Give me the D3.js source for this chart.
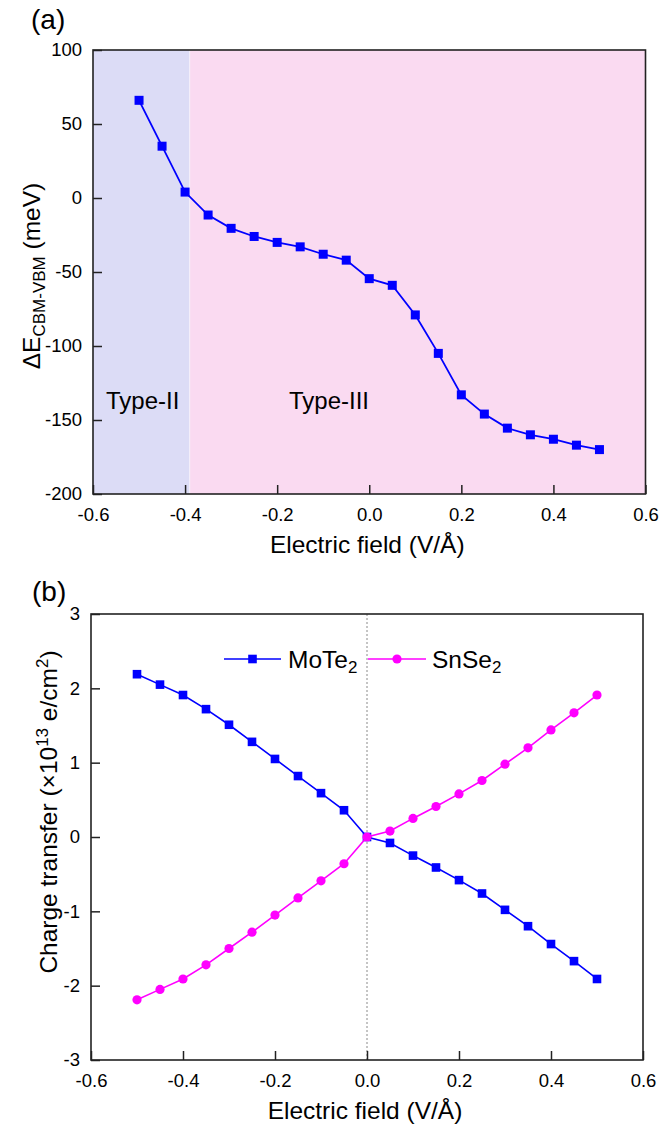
<!DOCTYPE html>
<html>
<head>
<meta charset="utf-8">
<script src="https://cdn.jsdelivr.net/npm/d3@7"></script>
<style>
  body { margin: 0; background: #fff; }
  svg { display: block; }
  text { font-family: "Liberation Sans", Arial, sans-serif; fill: #000; }
</style>
</head>
<body>
<svg id="fig" width="660" height="1129"></svg>
<script>
// ---- Data -------------------------------------------------------------
// Panel (a): band offset vs. applied field
const fieldA = [-0.5, -0.45, -0.4, -0.35, -0.3, -0.25, -0.2, -0.15, -0.1, -0.05, 0,
                0.05, 0.1, 0.15, 0.2, 0.25, 0.3, 0.35, 0.4, 0.45, 0.5];
const gapMeV = [66, 35, 4, -11.5, -20.5, -26, -30, -33, -38, -42, -54.5,
                -59, -79, -105, -133, -146, -155.5, -160, -163, -167, -170];
const typeBoundary = -0.39;
const regionNames = ["Type-II", "Type-III"];

// Panel (b): charge transfer of each layer
const fieldB = [-0.5, -0.45, -0.4, -0.35, -0.3, -0.25, -0.2, -0.15, -0.1, -0.05, 0,
                0.05, 0.1, 0.15, 0.2, 0.25, 0.3, 0.35, 0.4, 0.45, 0.5];
const moTe2 = [2.19, 2.05, 1.91, 1.72, 1.51, 1.28, 1.05, 0.82, 0.59, 0.36, 0,
               -0.08, -0.25, -0.41, -0.58, -0.76, -0.98, -1.2, -1.44, -1.67, -1.91];
const snSe2 = [-2.19, -2.05, -1.91, -1.72, -1.5, -1.28, -1.05, -0.82, -0.59, -0.36, 0,
               0.08, 0.25, 0.41, 0.58, 0.76, 0.98, 1.2, 1.44, 1.67, 1.91];

// Tick values
const xTicks = [-0.6, -0.4, -0.2, 0, 0.2, 0.4, 0.6];
const yTicksA = [100, 50, 0, -50, -100, -150, -200];
const yTicksB = [3, 2, 1, 0, -1, -2, -3];

// ---- Styles -----------------------------------------------------------
const BLUE = "#0000ff", MAGENTA = "#ff00ff";
const TICK_FONT = 18.5, TITLE_FONT = 24.5, SUB_FONT = 17;

const svg = d3.select("#fig");

function drawAxes(g, x, y, yTicks, xFmt, yFmt) {
  const xa = g.append("g").attr("transform", `translate(0,${y.range()[0]})`)
    .call(d3.axisBottom(x).tickValues(xTicks).tickFormat(xFmt)
      .tickSizeInner(-9).tickSizeOuter(0).tickPadding(14));
  const ya = g.append("g").attr("transform", `translate(${x.range()[0]},0)`)
    .call(d3.axisLeft(y).tickValues(yTicks).tickFormat(yFmt)
      .tickSizeInner(-9).tickSizeOuter(0).tickPadding(11));
  [xa, ya].forEach(a => {
    a.select(".domain").remove();
    a.selectAll(".tick line").attr("stroke", "#222").attr("stroke-width", 1.5);
    a.selectAll(".tick text").attr("font-size", TICK_FONT)
      .attr("font-family", "'Liberation Sans', Arial, sans-serif").attr("fill", "#000");
  });
  // frame
  g.append("rect")
    .attr("x", x.range()[0]).attr("y", y.range()[1])
    .attr("width", x.range()[1] - x.range()[0])
    .attr("height", y.range()[0] - y.range()[1])
    .attr("fill", "none").attr("stroke", "#222").attr("stroke-width", 1.6);
}

const fmtX = d => d.toFixed(1);
const fmtY = d => String(d);

// ---- Panel (a) --------------------------------------------------------
{
  const x = d3.scaleLinear().domain([-0.6, 0.6]).range([93, 645.5]);
  const y = d3.scaleLinear().domain([-200, 100]).range([494, 50]);
  const g = svg.append("g");

  // band-alignment regions
  g.append("rect").attr("x", x(-0.6)).attr("y", y(100))
    .attr("width", x(typeBoundary) - x(-0.6)).attr("height", y(-200) - y(100))
    .attr("fill", "#dcdcf6");
  g.append("rect").attr("x", x(typeBoundary)).attr("y", y(100))
    .attr("width", x(0.6) - x(typeBoundary)).attr("height", y(-200) - y(100))
    .attr("fill", "#fadaf1");
  g.append("line").attr("x1", x(typeBoundary)).attr("x2", x(typeBoundary))
    .attr("y1", y(100)).attr("y2", y(-200))
    .attr("stroke", "#f4f0fa").attr("stroke-width", 1);

  drawAxes(g, x, y, yTicksA, fmtX, fmtY);

  const pts = fieldA.map((f, i) => [f, gapMeV[i]]);
  g.append("path").datum(pts)
    .attr("d", d3.line().x(d => x(d[0])).y(d => y(d[1])))
    .attr("fill", "none").attr("stroke", BLUE).attr("stroke-width", 1.8);
  g.selectAll("rect.pt").data(pts).join("rect").attr("class", "pt")
    .attr("x", d => x(d[0]) - 4.5).attr("y", d => y(d[1]) - 4.5)
    .attr("width", 9).attr("height", 9).attr("fill", BLUE);

  g.append("text").attr("x", 106).attr("y", 409).attr("font-size", 24)
    .text(regionNames[0]);
  g.append("text").attr("x", 289).attr("y", 409).attr("font-size", 24)
    .text(regionNames[1]);

  g.append("text").attr("x", (x(-0.6) + x(0.6)) / 2 - 2).attr("y", 553)
    .attr("text-anchor", "middle").attr("font-size", TITLE_FONT)
    .text("Electric field (V/Å)");

  const yt = g.append("text").attr("transform", "translate(40,276) rotate(-90)")
    .attr("text-anchor", "middle").attr("font-size", TITLE_FONT);
  yt.append("tspan").text("ΔE");
  yt.append("tspan").attr("font-size", SUB_FONT).attr("dy", 5).text("CBM-VBM");
  yt.append("tspan").attr("dy", -5).text(" (meV)");

  svg.append("text").attr("x", 31).attr("y", 29).attr("font-size", 28).text("(a)");
}

// ---- Panel (b) --------------------------------------------------------
{
  const x = d3.scaleLinear().domain([-0.6, 0.6]).range([91, 643]);
  const y = d3.scaleLinear().domain([-3, 3]).range([1060, 614]);
  const g = svg.append("g");

  // zero-field guide
  g.append("line").attr("x1", x(0)).attr("x2", x(0))
    .attr("y1", y(3)).attr("y2", y(-3))
    .attr("stroke", "#8a8a8a").attr("stroke-width", 1).attr("stroke-dasharray", "2,2");

  drawAxes(g, x, y, yTicksB, fmtX, fmtY);

  const line = d3.line().x(d => x(d[0])).y(d => y(d[1]));
  const pM = fieldB.map((f, i) => [f, moTe2[i]]);
  const pS = fieldB.map((f, i) => [f, snSe2[i]]);

  g.append("path").datum(pM).attr("d", line)
    .attr("fill", "none").attr("stroke", BLUE).attr("stroke-width", 1.6);
  g.selectAll("rect.m").data(pM).join("rect").attr("class", "m")
    .attr("x", d => x(d[0]) - 4.3).attr("y", d => y(d[1]) - 4.3)
    .attr("width", 8.6).attr("height", 8.6).attr("fill", BLUE);

  g.append("path").datum(pS).attr("d", line)
    .attr("fill", "none").attr("stroke", MAGENTA).attr("stroke-width", 1.6);
  g.selectAll("circle.s").data(pS).join("circle").attr("class", "s")
    .attr("cx", d => x(d[0])).attr("cy", d => y(d[1])).attr("r", 4.6)
    .attr("fill", MAGENTA);

  // legend
  const lg = g.append("g");
  lg.append("line").attr("x1", 224).attr("x2", 281).attr("y1", 659).attr("y2", 659)
    .attr("stroke", BLUE).attr("stroke-width", 1.6);
  lg.append("rect").attr("x", 252.5 - 4.3).attr("y", 659 - 4.3)
    .attr("width", 8.6).attr("height", 8.6).attr("fill", BLUE);
  const t1 = lg.append("text").attr("x", 288).attr("y", 668).attr("font-size", TITLE_FONT);
  t1.append("tspan").text("MoTe");
  t1.append("tspan").attr("font-size", SUB_FONT).attr("dy", 5).text("2");

  lg.append("line").attr("x1", 368).attr("x2", 426).attr("y1", 659).attr("y2", 659)
    .attr("stroke", MAGENTA).attr("stroke-width", 1.6);
  lg.append("circle").attr("cx", 397).attr("cy", 659).attr("r", 4.6).attr("fill", MAGENTA);
  const t2 = lg.append("text").attr("x", 432).attr("y", 668).attr("font-size", TITLE_FONT);
  t2.append("tspan").text("SnSe");
  t2.append("tspan").attr("font-size", SUB_FONT).attr("dy", 5).text("2");

  g.append("text").attr("x", (x(-0.6) + x(0.6)) / 2 - 2).attr("y", 1119)
    .attr("text-anchor", "middle").attr("font-size", TITLE_FONT)
    .text("Electric field (V/Å)");

  const yt = g.append("text").attr("transform", "translate(57,812) rotate(-90)")
    .attr("text-anchor", "middle").attr("font-size", TITLE_FONT);
  yt.append("tspan").text("Charge transfer (×10");
  yt.append("tspan").attr("font-size", SUB_FONT).attr("dy", -9).text("13");
  yt.append("tspan").attr("dy", 9).text(" e/cm");
  yt.append("tspan").attr("font-size", SUB_FONT).attr("dy", -9).text("2");
  yt.append("tspan").attr("dy", 9).text(")");

  svg.append("text").attr("x", 32).attr("y", 601).attr("font-size", 28).text("(b)");
}
</script>
</body>
</html>
